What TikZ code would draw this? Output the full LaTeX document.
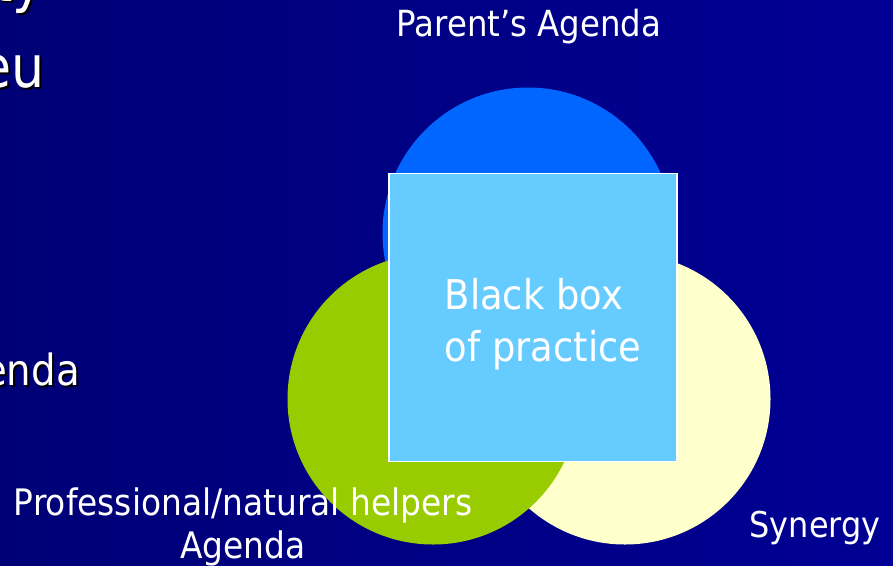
\documentclass[tikz,border=0pt]{standalone}
\usepackage{fontspec}
\setmainfont[FakeStretch=0.9]{DejaVu Sans}
\definecolor{slideleft}{RGB}{0,0,118}
\definecolor{slideright}{RGB}{0,0,148}
\definecolor{parentblue}{HTML}{0066FF}
\definecolor{helpergreen}{HTML}{99CC00}
\definecolor{synergyyellow}{HTML}{FFFFCC}
\definecolor{boxblue}{HTML}{66CCFF}
\newcommand{\rad}{291pt}

\begin{document}
\begin{tikzpicture}[x=1pt, y=-1pt,
    agenda/.style={circle, minimum size=\rad, inner sep=0pt},
    blackbox/.style={draw=white, line width=1.2pt, fill=boxblue, rectangle, minimum width=288pt, minimum height=288pt, inner sep=0pt},
    lbl/.style={text=white, inner sep=0pt, align=center},
    title/.style={text=white, inner sep=0pt, anchor=base east, font=\fontsize{#1}{#1}\selectfont},
    shadow/.style={text=black, inner sep=0pt, anchor=base east, font=\fontsize{#1}{#1}\selectfont}]
    % Background
    \clip (0,0) rectangle (893,565);
    \fill[left color=slideleft, right color=slideright] (0,0) rectangle (893,565);

    % Cut off slide text on the left
    \node[shadow=58] (ty-s) at (46,3) {ty};
    \node[title=58] (ty) at (44,1) {ty};
    \node[shadow=58] (eu-s) at (47,89) {eu};
    \node[title=58] (eu) at (45,87) {eu};
    \node[shadow=43] (enda-s) at (82,387) {enda};
    \node[title=43] (enda) at (80,385) {enda};

    % Circles
    \node[agenda, fill=parentblue] (parent) at (528,233) {};
    \node[agenda, fill=synergyyellow] (synergy) at (625,399) {};
    \node[agenda, fill=helpergreen] (helpers) at (433,399) {};

    % Black box
    \node[blackbox] (box) at (533,317.5) {};
    \node[lbl, align=left, font=\fontsize{41}{52}\selectfont] (box-text) at (543,324) {Black box\\of practice};

    % Labels
    \node[lbl, font=\fontsize{36}{36}\selectfont, anchor=base] (parent-lbl) at (529,36) {Parent’s Agenda};
    \node[lbl, font=\fontsize{36.5}{43}\selectfont, anchor=base] (helpers-lbl) at (243,558) {Professional/natural helpers\\Agenda};
    \node[lbl, font=\fontsize{35.5}{35.5}\selectfont, anchor=base] (synergy-lbl) at (815,537) {Synergy};
\end{tikzpicture}
\end{document}
